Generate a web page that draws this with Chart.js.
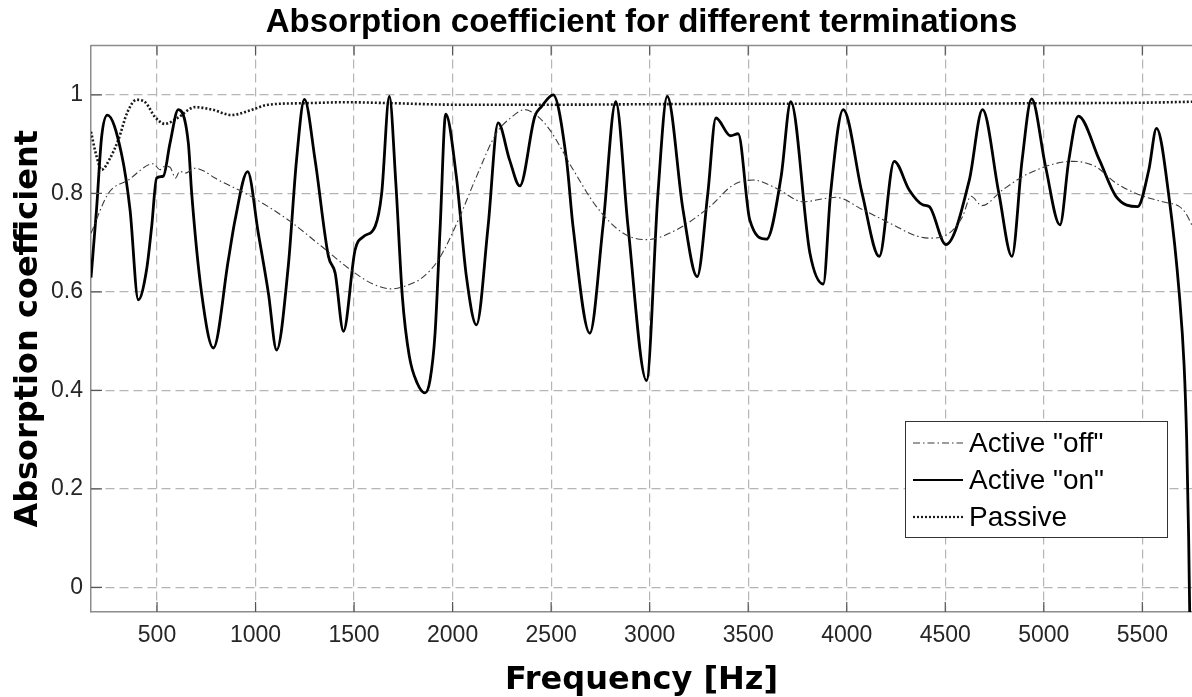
<!DOCTYPE html>
<html>
<head>
<meta charset="utf-8">
<script src="https://cdn.jsdelivr.net/npm/chart.js@4.4.1/dist/chart.umd.min.js"></script>
<style>
html, body { margin: 0; padding: 0; background: #fff; overflow: hidden; }
</style>
</head>
<body>
<canvas id="myChart" width="1192" height="697"></canvas>
<script>
// data (frequency in Hz, absorption coefficient)
const offFreq = [165, 253, 354, 481, 515, 540, 566, 594, 615, 642, 693, 744, 794, 963, 1166, 1336, 1505, 1600, 1691, 1760, 1843, 1928, 2029, 2121, 2222, 2300, 2366, 2430, 2493, 2612, 2730, 2866, 2984, 3136, 3305, 3424, 3525, 3644, 3779, 3897, 3945, 4080, 4216, 4351, 4419, 4520, 4588, 4630, 4686, 4791, 4926, 5146, 5264, 5366, 5485, 5603, 5688, 5720, 5752];
const offAbs = [0.719, 0.80, 0.827, 0.86, 0.848, 0.855, 0.853, 0.831, 0.845, 0.841, 0.851, 0.844, 0.831, 0.797, 0.746, 0.692, 0.638, 0.615, 0.606, 0.612, 0.628, 0.665, 0.746, 0.834, 0.922, 0.955, 0.97, 0.957, 0.929, 0.848, 0.773, 0.719, 0.706, 0.726, 0.773, 0.817, 0.827, 0.81, 0.783, 0.79, 0.792, 0.767, 0.74, 0.714, 0.709, 0.719, 0.753, 0.794, 0.775, 0.807, 0.841, 0.865, 0.854, 0.821, 0.797, 0.783, 0.773, 0.76, 0.735];

const onFreq = [165, 193, 219, 248, 320, 363, 405, 447, 473, 498, 532, 566, 608, 659, 676, 726, 786, 862, 896, 960, 1014, 1065, 1107, 1166, 1208, 1248, 1302, 1370, 1404, 1446, 1505, 1547, 1607, 1640, 1679, 1712, 1745, 1780, 1820, 1860, 1885, 1911, 1937, 1965, 2019, 2070, 2121, 2180, 2231, 2289, 2341, 2417, 2451, 2510, 2578, 2611, 2696, 2763, 2828, 2890, 2984, 3042, 3089, 3169, 3241, 3295, 3336, 3410, 3449, 3508, 3593, 3667, 3716, 3813, 3881, 3918, 3982, 4078, 4165, 4241, 4317, 4385, 4419, 4503, 4622, 4689, 4772, 4838, 4890, 4938, 5009, 5082, 5127, 5175, 5282, 5366, 5476, 5533, 5572, 5637, 5687, 5712, 5725, 5735, 5742];
const onAbs = [0.629, 0.767, 0.915, 0.959, 0.88, 0.767, 0.584, 0.645, 0.733, 0.831, 0.835, 0.902, 0.97, 0.902, 0.80, 0.598, 0.486, 0.665, 0.746, 0.844, 0.719, 0.598, 0.482, 0.652, 0.868, 0.991, 0.868, 0.672, 0.638, 0.52, 0.685, 0.712, 0.733, 0.80, 0.997, 0.82, 0.59, 0.47, 0.415, 0.395, 0.42, 0.516, 0.733, 0.961, 0.834, 0.631, 0.533, 0.733, 0.943, 0.868, 0.815, 0.956, 0.976, 1.0, 0.868, 0.733, 0.516, 0.733, 0.986, 0.733, 0.42, 0.80, 0.997, 0.767, 0.631, 0.80, 0.953, 0.917, 0.921, 0.746, 0.707, 0.834, 0.986, 0.679, 0.616, 0.80, 0.97, 0.80, 0.672, 0.865, 0.807, 0.777, 0.773, 0.696, 0.827, 0.97, 0.80, 0.672, 0.868, 0.992, 0.854, 0.736, 0.868, 0.957, 0.868, 0.794, 0.773, 0.848, 0.932, 0.787, 0.598, 0.45, 0.3, 0.1, -0.1];

const passiveFreq = [165, 190, 219, 260, 304, 350, 396, 440, 490, 540, 600, 693, 780, 879, 970, 1065, 1250, 1454, 1700, 2013, 2500, 3000, 3500, 4000, 4500, 5000, 5500, 5752];
const passiveAbs = [0.925, 0.88, 0.848, 0.87, 0.909, 0.965, 0.99, 0.985, 0.955, 0.941, 0.952, 0.975, 0.97, 0.959, 0.968, 0.98, 0.983, 0.985, 0.983, 0.98, 0.98, 0.981, 0.982, 0.982, 0.982, 0.983, 0.984, 0.986];

const freqTicks = [500, 1000, 1500, 2000, 2500, 3000, 3500, 4000, 4500, 5000, 5500];
const absTicks = [0, 0.2, 0.4, 0.6, 0.8, 1];
const seriesNames = ['Active "off"', 'Active "on"', 'Passive'];

const toPoints = (xs, ys) => xs.map((x, i) => ({ x: x, y: ys[i] }));

const tickFont = { family: '"Liberation Sans", Arial, sans-serif', size: 23 };
const labelFont = { family: '"DejaVu Sans", sans-serif', size: 32, weight: 'bold', lineHeight: 1.0 };

// matlab-like inner tick marks and top frame line
const innerTicks = {
    id: 'innerTicks',
    afterDraw(chart) {
        const { ctx, chartArea: a, scales: { x, y } } = chart;
        ctx.save();
        ctx.strokeStyle = '#555';
        ctx.lineWidth = 1.2;
        ctx.beginPath();
        x.ticks.forEach(t => {
            const px = x.getPixelForValue(t.value);
            ctx.moveTo(px, a.bottom); ctx.lineTo(px, a.bottom - 10);
            ctx.moveTo(px, a.top); ctx.lineTo(px, a.top + 10);
        });
        y.ticks.forEach(t => {
            const py = y.getPixelForValue(t.value);
            ctx.moveTo(a.left, py); ctx.lineTo(a.left + 11, py);
        });
        ctx.stroke();
        ctx.strokeStyle = '#8c8c8c';
        ctx.lineWidth = 1.5;
        ctx.beginPath();
        ctx.moveTo(a.left, a.top); ctx.lineTo(a.right, a.top);
        ctx.stroke();
        ctx.restore();
    }
};

// boxed legend inside the plot, lower right
const boxLegend = {
    id: 'boxLegend',
    afterDraw(chart) {
        const { ctx, chartArea: a } = chart;
        const bx = a.right - 287, by = a.bottom - 191, bw = 262, bh = 116;
        ctx.save();
        ctx.fillStyle = '#fff';
        ctx.fillRect(bx, by, bw, bh);
        ctx.strokeStyle = '#333';
        ctx.lineWidth = 1;
        ctx.strokeRect(bx + 0.5, by + 0.5, bw, bh);
        ctx.font = '28px "Liberation Sans", Arial, sans-serif';
        ctx.textBaseline = 'middle';
        ctx.fillStyle = '#000';
        chart.data.datasets.forEach((ds, i) => {
            const cy = by + 22 + i * 37;
            ctx.save();
            ctx.strokeStyle = ds.borderColor;
            ctx.lineWidth = Math.min(ds.borderWidth, 2.2);
            ctx.setLineDash(ds.borderDash || []);
            ctx.beginPath();
            ctx.moveTo(bx + 8, cy); ctx.lineTo(bx + 58, cy);
            ctx.stroke();
            ctx.restore();
            ctx.fillText(ds.label, bx + 64, cy + 1);
        });
        ctx.restore();
    }
};

const data = {
    datasets: [{
        label: seriesNames[0],
        data: toPoints(offFreq, offAbs),
        borderColor: '#3a3a3a',
        borderWidth: 1.1,
        borderDash: [7, 3, 1.5, 3]
    }, {
        label: seriesNames[1],
        data: toPoints(onFreq, onAbs),
        borderColor: '#000',
        borderWidth: 2.8
    }, {
        label: seriesNames[2],
        data: toPoints(passiveFreq, passiveAbs),
        borderColor: '#1a1a1a',
        borderWidth: 2.6,
        borderDash: [2, 2]
    }]
};

const options = {
    responsive: false,
    animation: false,
    devicePixelRatio: 1,
    layout: { padding: 0 },
    elements: {
        point: { radius: 0 },
        line: { cubicInterpolationMode: 'monotone' }
    },
    plugins: {
        legend: { display: false },
        tooltip: { enabled: false },
        title: {
            display: true,
            fullSize: false,
            text: 'Absorption coefficient for different terminations',
            color: '#000',
            font: { family: '"Liberation Sans", Arial, sans-serif', size: 33, weight: 'bold', lineHeight: 1.2 },
            padding: { top: 3, bottom: 3 }
        }
    },
    scales: {
        x: {
            type: 'linear',
            min: 165,
            max: 5752,
            afterBuildTicks: s => { s.ticks = freqTicks.map(v => ({ value: v })); },
            afterFit: s => { s.height = 85; },
            ticks: { color: '#262626', font: tickFont, padding: 10, maxRotation: 0, callback: v => String(v) },
            grid: { color: '#b5b5b5', lineWidth: 1.2, drawTicks: false },
            border: { display: true, color: '#8c8c8c', width: 1.5, dash: [9, 5] },
            title: { display: true, text: 'Frequency [Hz]', color: '#000', font: labelFont, padding: { top: 0, bottom: 0 } }
        },
        y: {
            min: -0.05,
            max: 1.1,
            afterBuildTicks: s => { s.ticks = absTicks.map(v => ({ value: v })); },
            afterFit: s => { s.width = 91; },
            ticks: { color: '#262626', font: tickFont, padding: 8, callback: v => String(v) },
            grid: { color: '#b5b5b5', lineWidth: 1.2, drawTicks: false },
            border: { display: true, color: '#8c8c8c', width: 1.5, dash: [9, 5] },
            title: { display: true, text: 'Absorption coefficient', color: '#000', font: labelFont, padding: { top: 13, bottom: 0 } }
        }
    }
};

const ctx = document.getElementById('myChart').getContext('2d');
const myChart = new Chart(ctx, {
    type: 'line',
    data: data,
    options: options,
    plugins: [innerTicks, boxLegend]
});
</script>
</body>
</html>
